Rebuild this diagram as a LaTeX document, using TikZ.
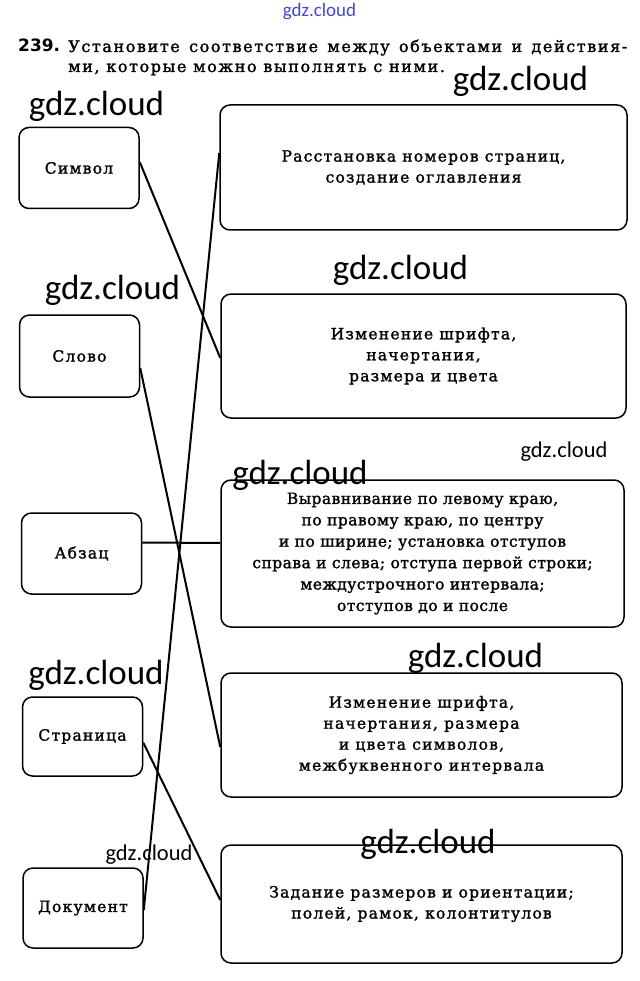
\documentclass[tikz,border=0pt]{standalone}
\usepackage{fontspec}
\setmainfont{DejaVu Serif}[LetterSpace=8, FakeBold=1.5]
\newfontfamily\wmfont{Carlito}
\newfontfamily\numfont{DejaVu Sans}
\usepackage{xcolor}
\definecolor{wmblue}{RGB}{70,70,210}
\usetikzlibrary{positioning}

\begin{document}
\begin{tikzpicture}[
  x=1pt, y=-1pt,
  obj/.style={rectangle, draw, line width=1.5pt, rounded corners=10pt, minimum width=120pt,
              minimum height=81pt, inner sep=0pt, font=\fontsize{15.5}{21}\selectfont},
  act/.style={obj, align=center, minimum width=403pt, minimum height=124pt},
  link/.style={line width=2pt},
  wm/.style={inner sep=0pt, font=\wmfont\fontsize{35}{35}\selectfont},
  wmsmall/.style={wm, font=\wmfont\fontsize{22.5}{23}\selectfont}
]
  \useasboundingbox (0,0) rectangle (639,981);

  % task text
  \node[anchor=base west, inner sep=0pt, font=\numfont\bfseries\fontsize{17}{20}\selectfont] (num) at (18,52) {239.};
  \node[anchor=base west, inner sep=0pt, font=\fontsize{16}{20}\selectfont\addfontfeature{LetterSpace=10}] (task) at (68,52)
    {\makebox[559pt][s]{Установите соответствие между объектами и действия-}};
  \node[anchor=base west, inner sep=0pt, font=\fontsize{16}{20}\selectfont\addfontfeature{LetterSpace=10}] (task2) at (68,72)
    {ми, которые можно выполнять с ними.};

  % objects
  \node[obj] (sym) at (79,168) {Символ};
  \node[obj, minimum height=82pt] (word) at (79.5,356) {Слово};
  \node[obj] (para) at (81.5,553.5) {Абзац};
  \node[obj, minimum height=79pt] (page) at (82.5,736.5) {Страница};
  \node[obj, minimum height=80pt] (doc) at (83,908) {Документ};

  % actions
  \node[act, minimum width=407pt, minimum height=125pt] (numbering) at (423.5,167.5)
    {Расстановка номеров страниц,\\ создание оглавления};
  \node[act, minimum width=405pt] (fontsym) at (423.5,356)
    {Изменение шрифта,\\ начертания,\\ размера и цвета};
  \node[act, minimum height=147pt, font=\fontsize{15.5}{21.4}\selectfont\addfontfeature{LetterSpace=3}] (align) at (422.5,553.5)
    {Выравнивание по левому краю,\\ по правому краю, по центру\\ и по ширине; установка отступов\\
     справа и слева; отступа первой строки;\\ междустрочного интервала;\\ отступов до и после};
  \node[act, minimum width=401pt] (fontword) at (421.5,735)
    {Изменение шрифта,\\ начертания, размера\\ и цвета символов,\\ межбуквенного интервала};
  \node[act, minimum width=401pt, minimum height=118pt] (layout) at (421.5,904)
    {Задание размеров и ориентации;\\ полей, рамок, колонтитулов};

  \draw[link] ([yshift=6pt]sym.east) -- ([yshift=-2pt]fontsym.west);
  \draw[link] ([yshift=-12pt]word.east) -- ([yshift=-12pt]fontword.west);
  \draw[link] ([yshift=11pt]para.east) -- ([yshift=10.5pt]align.west);
  \draw[link] ([yshift=-6pt]page.east) -- ([yshift=4pt]layout.west);
  \draw[link] ([yshift=-2pt]doc.east) -- ([yshift=14.5pt]numbering.west);

  % watermarks
  \node[wm, font=\wmfont\fontsize{19}{19}\selectfont, text=wmblue] (wm1) at (319.5,11.5) {gdz.cloud};
  \node[wm] (wm2) at (520.5,81.5) {gdz.cloud};
  \node[wm] (wm3) at (96.5,106) {gdz.cloud};
  \node[wm] (wm4) at (400.5,270) {gdz.cloud};
  \node[wm] (wm5) at (112.5,290) {gdz.cloud};
  \node[wmsmall] (wm6) at (564,452) {gdz.cloud};
  \node[wm] (wm7) at (300,475) {gdz.cloud};
  \node[wm] (wm8) at (96,675) {gdz.cloud};
  \node[wm] (wm9) at (475.5,658) {gdz.cloud};
  \node[wmsmall] (wm10) at (149,855) {gdz.cloud};
  \node[wm] (wm11) at (428,844) {gdz.cloud};
\end{tikzpicture}
\end{document}
